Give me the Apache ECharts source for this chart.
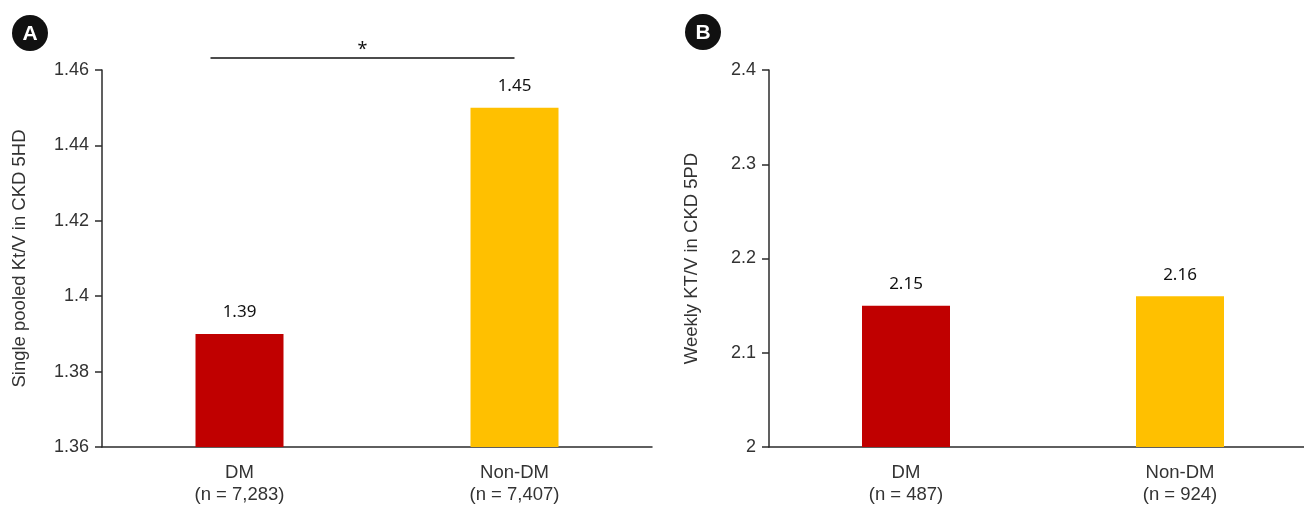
<!DOCTYPE html>
<html>
<head>
<meta charset="utf-8">
<script src="https://cdn.jsdelivr.net/npm/echarts@6/dist/echarts.min.js"></script>
<style>
  html, body { margin: 0; padding: 0; background: #fff; overflow: hidden; }
  #chart { width: 1317px; height: 507px; }
</style>
</head>
<body>
<div id="chart"></div>
<script>
// Groups and sample sizes
const categories = ['DM', 'Non-DM'];
const hdCounts = ['7,283', '7,407'];
const pdCounts = ['487', '924'];

// Mean values per group
const hdKtV = [1.39, 1.45];   // single pooled Kt/V, CKD 5HD
const pdKtV = [2.15, 2.16];   // weekly KT/V, CKD 5PD

// Axis ranges
const hdAxis = { min: 1.36, max: 1.46, interval: 0.02 };
const pdAxis = { min: 2.0, max: 2.4, interval: 0.1 };

// Significance bracket over panel A
const hdBracketValue = 1.4632;
const hdBracketMark = '*';

const barColors = ['#C00000', '#FFC000'];
const axisColor = '#2b2b2b';
const labelFont = 'Liberation Sans';

const chart = echarts.init(document.getElementById('chart'));

function catLabels(counts) {
  return categories.map((c, i) => c + '\n(n = ' + counts[i] + ')');
}

function xAxisDef(gridIndex, counts) {
  return {
    type: 'category',
    gridIndex,
    data: catLabels(counts),
    boundaryGap: true,
    axisLine: { lineStyle: { color: axisColor, width: 1.5 } },
    axisTick: { show: false },
    axisLabel: {
      color: '#333', fontFamily: labelFont, fontSize: 18.5, lineHeight: 22, margin: 15
    }
  };
}

function yAxisDef(gridIndex, range, name, decimals, gap) {
  return {
    type: 'value',
    gridIndex,
    min: range.min, max: range.max, interval: range.interval,
    name,
    nameLocation: 'middle',
    nameGap: gap,
    nameTextStyle: { color: '#333', fontFamily: labelFont, fontSize: 18.5 },
    splitLine: { show: false },
    axisLine: { show: true, lineStyle: { color: axisColor, width: 1.5 } },
    axisTick: { show: true, length: 7, lineStyle: { color: axisColor, width: 1.5 } },
    axisLabel: {
      color: '#333', fontFamily: labelFont, fontSize: 18, margin: 13,
      formatter: v => String(+v.toFixed(decimals))
    }
  };
}

function barSeries(xi, yi, values) {
  return {
    type: 'bar',
    xAxisIndex: xi, yAxisIndex: yi,
    barWidth: 88,
    data: values.map((v, i) => ({ value: v, itemStyle: { color: barColors[i] } })),
    label: {
      show: true, position: 'top', distance: 13,
      color: '#111', fontFamily: 'Noto Sans', fontSize: 17,
      formatter: p => p.value.toFixed(2)
    }
  };
}

chart.setOption({
  animation: false,
  grid: [
    { left: 102, top: 70, width: 550, height: 377 },
    { left: 769, top: 70, width: 548, height: 377 }
  ],
  xAxis: [xAxisDef(0, hdCounts), xAxisDef(1, pdCounts)],
  yAxis: [
    yAxisDef(0, hdAxis, 'Single pooled Kt/V in CKD 5HD', 2, 73),
    yAxisDef(1, pdAxis, 'Weekly KT/V in CKD 5PD', 1, 68)
  ],
  series: [barSeries(0, 0, hdKtV), barSeries(1, 1, pdKtV)]
});

// Panel badges and the significance bracket, placed through the axis scales
function badge(cx, cy, letter) {
  return [
    { type: 'circle', shape: { cx, cy, r: 18 }, style: { fill: '#111' } },
    { type: 'text', x: cx, y: cy + 1, style: {
        text: letter, fill: '#fff', font: 'bold 21px "Liberation Sans"',
        align: 'center', verticalAlign: 'middle' } }
  ];
}

const p0 = chart.convertToPixel({ gridIndex: 0 }, [0, hdBracketValue]);
const p1 = chart.convertToPixel({ gridIndex: 0 }, [1, hdBracketValue]);
const bx0 = p0[0] - 29, bx1 = p1[0], by = p0[1];

chart.setOption({
  graphic: [
    ...badge(30, 33, 'A'),
    ...badge(703, 32, 'B'),
    { type: 'line', shape: { x1: bx0, y1: by, x2: bx1, y2: by },
      style: { stroke: '#111', lineWidth: 1.5 } },
    { type: 'text', x: (bx0 + bx1) / 2, y: by - 8, style: {
        text: hdBracketMark, fill: '#111', font: '18px "Noto Sans"',
        align: 'center', verticalAlign: 'middle' } }
  ]
});
</script>
</body>
</html>
